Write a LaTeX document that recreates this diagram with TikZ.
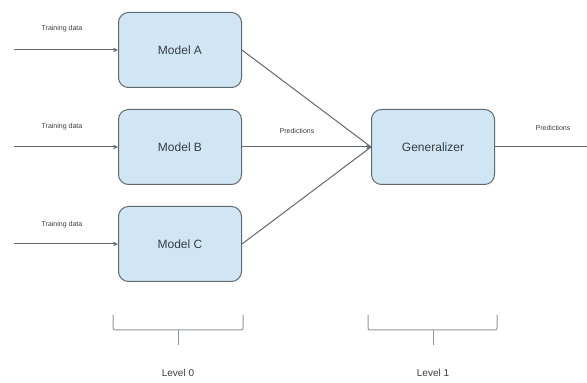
\documentclass[tikz,border=0pt]{standalone}
\usepackage{fontspec}
\setmainfont{Liberation Sans}
\usetikzlibrary{arrows.meta,calc}

\definecolor{boxblue}{RGB}{208,230,245}
\definecolor{boxline}{RGB}{95,105,110}
\definecolor{txtgray}{RGB}{55,60,65}

\begin{document}
\begin{tikzpicture}[x=1pt, y=1pt, >={Stealth[length=5pt,width=4.5pt]},
  model/.style={draw=boxline, fill=boxblue, rounded corners=10pt, line width=1pt,
    minimum width=123pt, minimum height=75pt, text=txtgray, font=\fontsize{12}{14}\selectfont},
  small/.style={text=txtgray, font=\fontsize{7}{8}\selectfont},
  conn/.style={draw=boxline, line width=1pt},
  brace/.style={draw=boxline!70, line width=1pt, rounded corners=2pt}]

\useasboundingbox (0,0) rectangle (587,383);

% level 0 models
\node[model] (A) at (180,333) {Model A};
\node[model] (B) at (180,236) {Model B};
\node[model] (C) at (180,139) {Model C};

% level 1
\node[model] (G) at (433,236) {Generalizer};

% inputs
\coordinate (inA) at (14,333);
\coordinate (inB) at (14,236);
\coordinate (inC) at (14,139);
\coordinate (out) at (587,236);

\draw[conn,->] (inA) -- (A.west);
\draw[conn,->] (inB) -- (B.west);
\draw[conn,->] (inC) -- (C.west);

\node[small] (tA) at (62,354) {Training data};
\node[small] (tB) at (62,256) {Training data};
\node[small] (tC) at (62,158) {Training data};

\draw[conn] (A.east) -- (G.west);
\draw[conn] (C.east) -- (G.west);
\draw[conn,->] (B.east) -- (G.west);
\draw[conn] (G.east) -- (out);

\node[small] (pB) at (297,252) {Predictions};
\node[small] (pG) at (553,255) {Predictions};

% braces
\draw[brace] (113,68) -- (113,53) -- (243,53) -- (243,68);
\draw[brace] (178,53) -- (178,38);
\draw[brace] (368,68) -- (368,53) -- (497,53) -- (497,68);
\draw[brace] (433,53) -- (433,38);

\node[text=txtgray, font=\fontsize{10}{12}\selectfont] (L0) at (178,10) {Level 0};
\node[text=txtgray, font=\fontsize{10}{12}\selectfont] (L1) at (433,10) {Level 1};

\end{tikzpicture}
\end{document}
